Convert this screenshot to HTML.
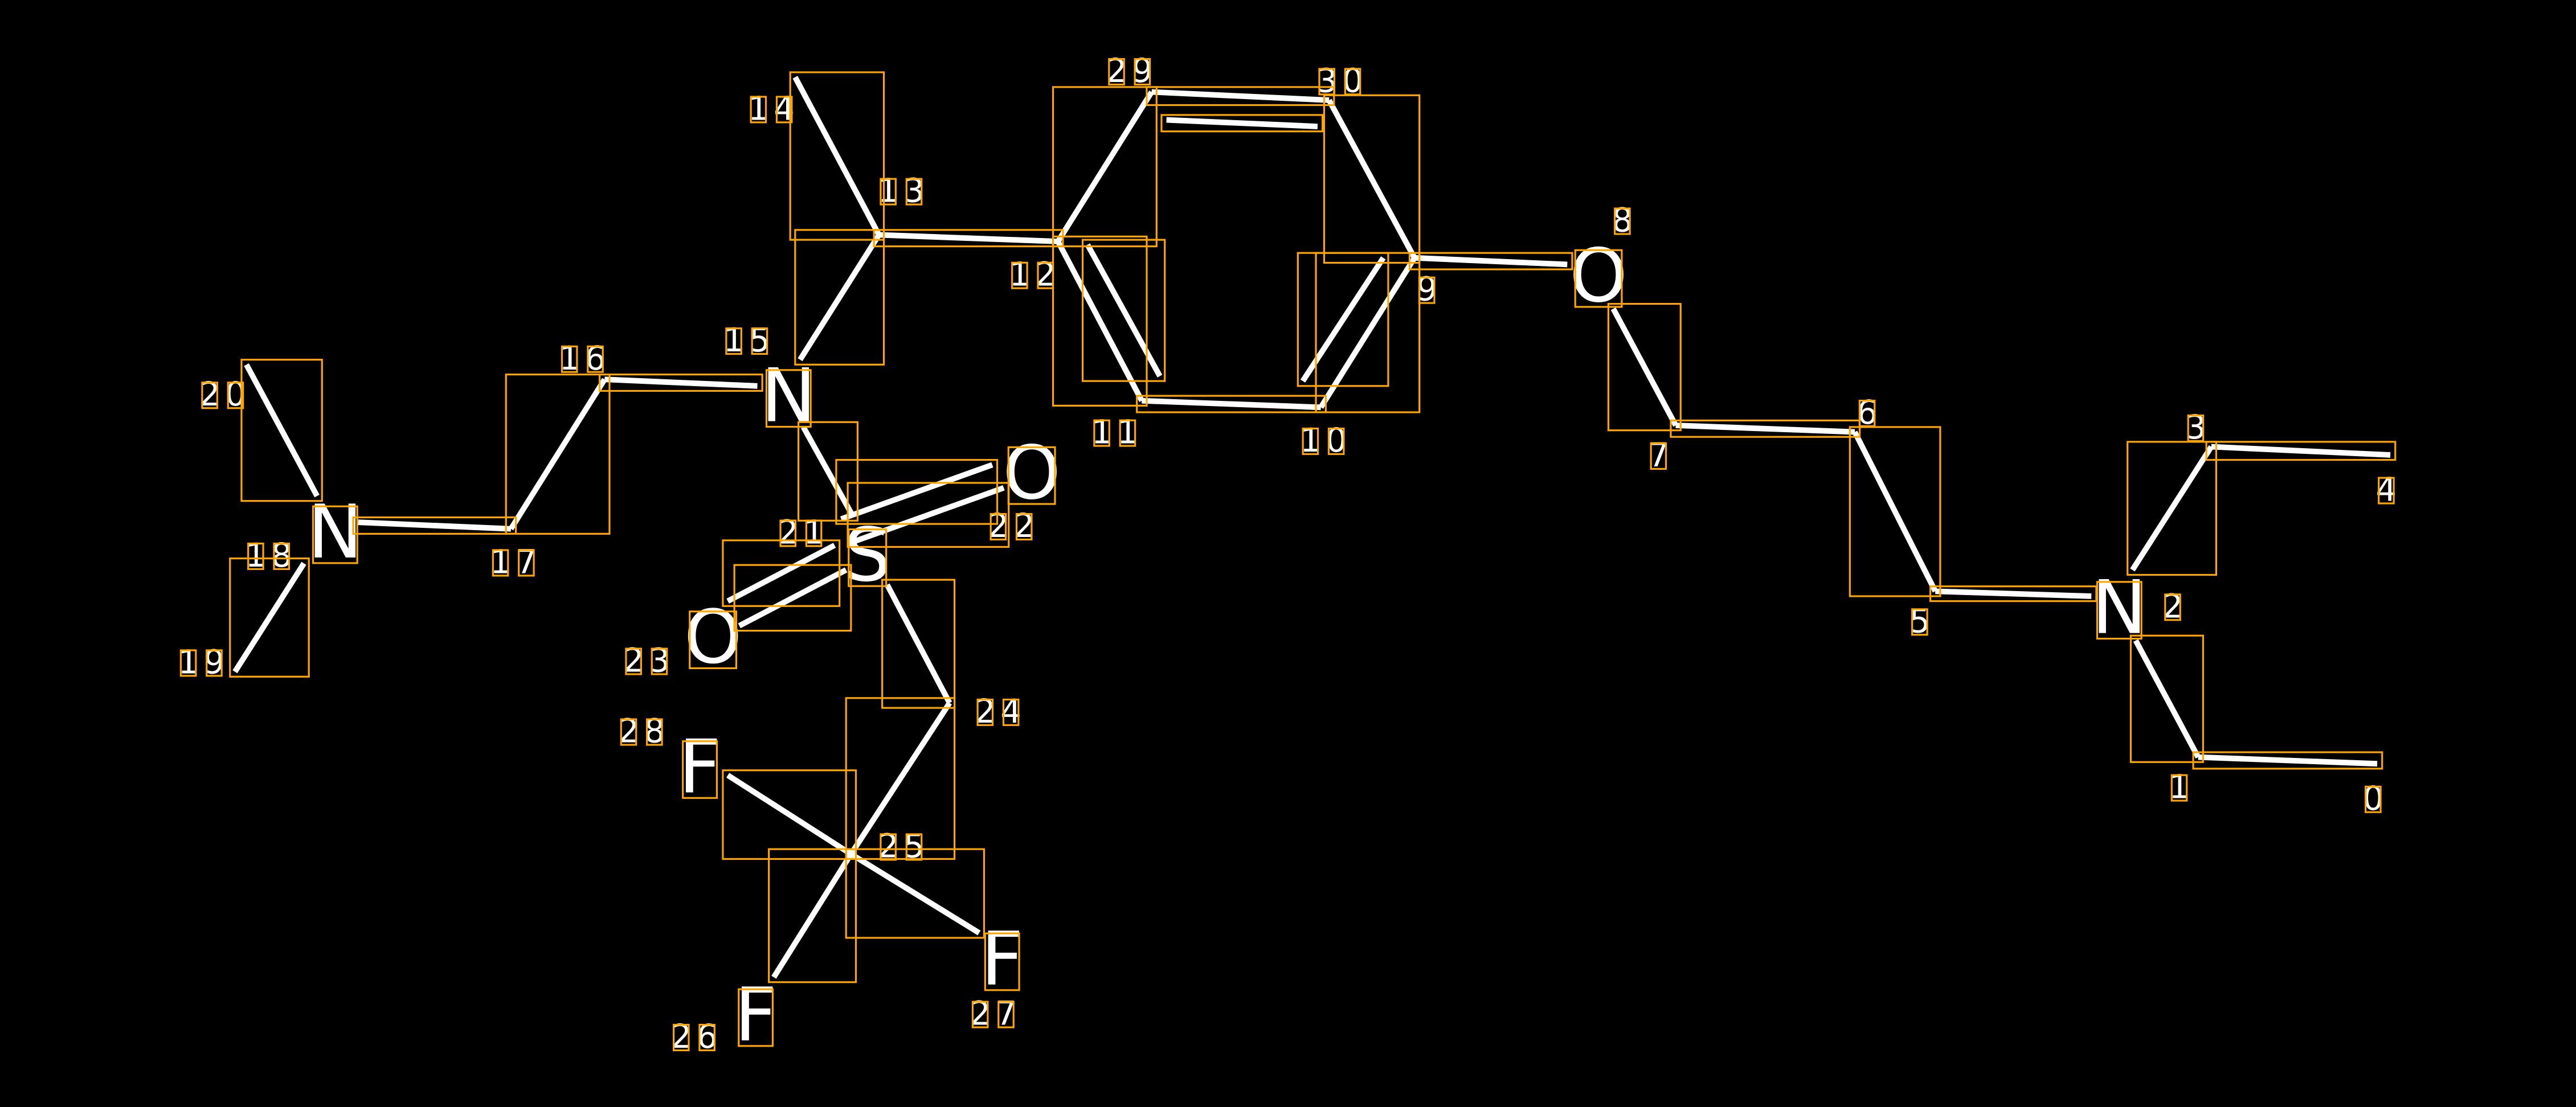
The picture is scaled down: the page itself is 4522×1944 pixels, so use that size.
<!DOCTYPE html>
<html><head><meta charset="utf-8"><style>
html,body{margin:0;padding:0;background:#000;}
svg{display:block}
text{font-family:"DejaVu Sans","Liberation Sans",sans-serif;fill:#fff;text-anchor:middle;dominant-baseline:central}
.n{font-size:20px;letter-spacing:3px}
.a{font-size:45px}
line{stroke:#fff;stroke-width:3.4}
rect{fill:none;stroke:#FFA500;stroke-width:1.1}
</style></head><body>
<svg id="s" width="4522" height="1944" viewBox="0 0 1568 674" preserveAspectRatio="none" xmlns="http://www.w3.org/2000/svg">
<rect x="0" y="0" width="1568" height="674" style="fill:#000;stroke:none"/>
<g id="b">
<line x1="1447" y1="465" x2="1338" y2="461"/>
<line x1="1338" y1="461" x2="1300" y2="390"/>
<line x1="1298" y1="347" x2="1346" y2="272"/>
<line x1="1346" y1="272" x2="1455" y2="277"/>
<line x1="1273" y1="363" x2="1178" y2="360"/>
<line x1="1178" y1="360" x2="1129" y2="263"/>
<line x1="1129" y1="263" x2="1020" y2="259"/>
<line x1="1020" y1="259" x2="982" y2="188"/>
<line x1="954" y1="161" x2="861" y2="157"/>
<line x1="861" y1="157" x2="809" y2="61"/>
<line x1="861" y1="157" x2="804" y2="248"/>
<line x1="793" y1="232" x2="842" y2="157"/>
<line x1="804" y1="248" x2="695" y2="244"/>
<line x1="695" y1="244" x2="644" y2="147"/>
<line x1="706" y1="229" x2="662" y2="149"/>
<line x1="644" y1="147" x2="701" y2="56"/>
<line x1="701" y1="56" x2="809" y2="61"/>
<line x1="710" y1="73" x2="802" y2="77"/>
<line x1="644" y1="147" x2="535" y2="143"/>
<line x1="535" y1="143" x2="484" y2="47"/>
<line x1="535" y1="143" x2="487" y2="219"/>
<line x1="461" y1="235" x2="368" y2="231"/>
<line x1="368" y1="231" x2="311" y2="322"/>
<line x1="311" y1="322" x2="218" y2="318"/>
<line x1="185" y1="343" x2="143" y2="409"/>
<line x1="193" y1="302" x2="150" y2="222"/>
<line x1="489" y1="260" x2="519" y2="314"/>
<line x1="512" y1="316" x2="604" y2="283"/>
<line x1="519" y1="330" x2="611" y2="297"/>
<line x1="443" y1="366" x2="508" y2="332"/>
<line x1="450" y1="381" x2="515" y2="347"/>
<line x1="540" y1="356" x2="578" y2="428"/>
<line x1="578" y1="428" x2="518" y2="520"/>
<line x1="518" y1="520" x2="471" y2="595"/>
<line x1="518" y1="520" x2="596" y2="568"/>
<line x1="518" y1="520" x2="443" y2="472"/>
</g>
<g id="t">
<text class="a" x="1290" y="370">N</text>
<text class="a" x="973" y="168">O</text>
<text class="a" x="480" y="241">N</text>
<text class="a" x="204" y="324">N</text>
<text class="a" x="528" y="338">S</text>
<text class="a" x="628" y="288">O</text>
<text class="a" x="434" y="388">O</text>
<text class="a" x="460" y="618">F</text>
<text class="a" x="610" y="584">F</text>
<text class="a" x="426" y="467">F</text>
<text class="n" x="1446" y="486">0</text>
<text class="n" x="1328" y="479">1</text>
<text class="n" x="1324" y="369">2</text>
<text class="n" x="1338" y="260">3</text>
<text class="n" x="1454" y="298">4</text>
<text class="n" x="1170" y="378">5</text>
<text class="n" x="1138" y="251">6</text>
<text class="n" x="1011" y="277">7</text>
<text class="n" x="989" y="134">8</text>
<text class="n" x="870" y="176">9</text>
<text class="n" x="807" y="268">10</text>
<text class="n" x="680" y="263">11</text>
<text class="n" x="630" y="167">12</text>
<text class="n" x="550" y="116">13</text>
<text class="n" x="471" y="66">14</text>
<text class="n" x="456" y="207">15</text>
<text class="n" x="356" y="218">16</text>
<text class="n" x="314" y="342">17</text>
<text class="n" x="165" y="338">18</text>
<text class="n" x="124" y="403">19</text>
<text class="n" x="137" y="240">20</text>
<text class="n" x="489" y="324">21</text>
<text class="n" x="617" y="320">22</text>
<text class="n" x="395" y="402">23</text>
<text class="n" x="609" y="433">24</text>
<text class="n" x="550" y="515">25</text>
<text class="n" x="424" y="631">26</text>
<text class="n" x="606" y="617">27</text>
<text class="n" x="392" y="445">28</text>
<text class="n" x="689" y="43">29</text>
<text class="n" x="817" y="49">30</text>
</g>
<g id="r"></g>
</svg>
<script>
(function(){
var NS="http://www.w3.org/2000/svg",r=document.getElementById('r');
function box(x,y,w,h){var e=document.createElementNS(NS,'rect');e.setAttribute('x',x);e.setAttribute('y',y);e.setAttribute('width',w);e.setAttribute('height',h);r.appendChild(e);}
document.querySelectorAll('#b line').forEach(function(l){
var x1=+l.getAttribute('x1'),y1=+l.getAttribute('y1'),x2=+l.getAttribute('x2'),y2=+l.getAttribute('y2');
var p=3;box(Math.min(x1,x2)-p,Math.min(y1,y2)-p,Math.abs(x2-x1)+2*p,Math.abs(y2-y1)+2*p);});
document.querySelectorAll('#t text').forEach(function(t){
var n=t.textContent.length,big=t.classList.contains('a');
for(var i=0;i<n;i++){try{var e=t.getExtentOfChar(i);
var w=big?e.width:e.width-3;
var sx=big?w*0.1:w*0.14, h=e.height;
box(e.x+sx,e.y+h*0.2,w-2*sx,h*0.66);}catch(err){}}});
})();
</script>
</body></html>
